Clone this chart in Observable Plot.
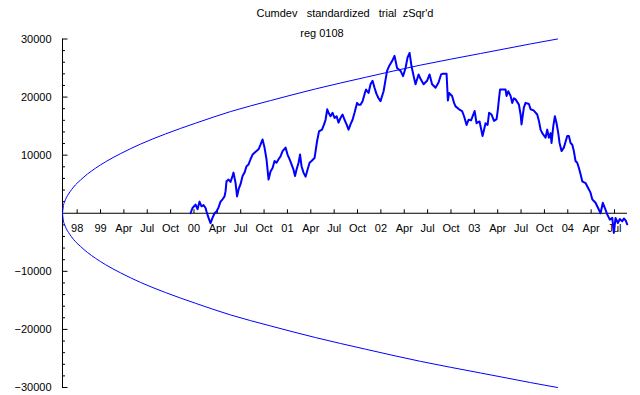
<!DOCTYPE html>
<html><head><meta charset="utf-8">
<script src="https://cdn.jsdelivr.net/npm/d3@7"></script>
<script src="https://cdn.jsdelivr.net/npm/@observablehq/plot@0.6"></script>
<style>body{margin:0;background:#fff} svg text{white-space:pre}</style>
</head><body><div id="chart"></div>
<script>
const title = "Cumdev   standardized   trial  zSqr'd";
const subtitle = "reg 0108";

// x axis: quarter ticks (decimal years) and their labels
const tickYears = [1998.75,1999,1999.25,1999.5,1999.75,2000,2000.25,2000.5,2000.75,2001,2001.25,2001.5,2001.75,2002,2002.25,2002.5,2002.75,2003,2003.25,2003.5,2003.75,2004,2004.25,2004.5];
const tickLabels = ["98","99","Apr","Jul","Oct","00","Apr","Jul","Oct","01","Apr","Jul","Oct","02","Apr","Jul","Oct","03","Apr","Jul","Oct","04","Apr","Jul"];
const xDomain = [1998.593, 2004.639];

// y axis
const yMajor = [-30000,-20000,-10000,10000,20000,30000];
const yMinor = [-28000,-26000,-24000,-22000,-18000,-16000,-14000,-12000,-8000,-6000,-4000,-2000,2000,4000,6000,8000,12000,14000,16000,18000,22000,24000,26000,28000];

// envelope (upper branch, lower is its mirror)
const envYears = [1998.593,1998.603,1998.614,1998.635,1998.657,1998.689,1998.732,1998.785,1998.860,1998.946,1999.053,1999.213,1999.427,1999.695,2000.016,2000.390,2000.819,2001.300,2001.835,2002.424,2003.066,2003.601,2003.890];
const envValues = [0,1350,1900,2700,3300,4050,4900,5700,6750,7750,8850,10250,11900,13650,15500,17500,19400,21400,23400,25500,27500,29150,30000];

// cumulative deviation
const walkYears = [1999.963,1999.984,2000.017,2000.038,2000.059,2000.081,2000.102,2000.124,2000.134,2000.156,2000.177,2000.198,2000.220,2000.241,2000.263,2000.284,2000.306,2000.327,2000.338,2000.348,2000.370,2000.391,2000.412,2000.423,2000.445,2000.461,2000.477,2000.498,2000.520,2000.541,2000.562,2000.584,2000.605,2000.627,2000.648,2000.669,2000.691,2000.712,2000.734,2000.755,2000.776,2000.798,2000.819,2000.841,2000.862,2000.883,2000.905,2000.926,2000.948,2000.980,2001.001,2001.023,2001.044,2001.065,2001.081,2001.097,2001.119,2001.135,2001.151,2001.172,2001.194,2001.215,2001.237,2001.258,2001.290,2001.317,2001.338,2001.370,2001.392,2001.408,2001.426,2001.440,2001.461,2001.483,2001.504,2001.526,2001.547,2001.568,2001.590,2001.611,2001.633,2001.654,2001.675,2001.697,2001.718,2001.745,2001.761,2001.782,2001.804,2001.825,2001.841,2001.868,2001.889,2001.911,2001.932,2001.954,2001.975,2001.996,2002.029,2002.066,2002.087,2002.120,2002.146,2002.173,2002.211,2002.237,2002.264,2002.285,2002.307,2002.328,2002.355,2002.371,2002.403,2002.425,2002.457,2002.494,2002.521,2002.548,2002.585,2002.617,2002.644,2002.660,2002.703,2002.717,2002.730,2002.762,2002.783,2002.799,2002.837,2002.869,2002.890,2002.917,2002.938,2002.965,2003.003,2003.024,2003.056,2003.088,2003.120,2003.142,2003.158,2003.184,2003.211,2003.238,2003.252,2003.263,2003.275,2003.302,2003.334,2003.345,2003.363,2003.388,2003.406,2003.423,2003.441,2003.477,2003.495,2003.505,2003.530,2003.548,2003.584,2003.602,2003.634,2003.673,2003.691,2003.709,2003.727,2003.762,2003.780,2003.798,2003.816,2003.826,2003.845,2003.862,2003.880,2003.898,2003.912,2003.933,2003.958,2003.994,2004.012,2004.030,2004.048,2004.065,2004.083,2004.101,2004.119,2004.137,2004.155,2004.190,2004.226,2004.244,2004.262,2004.297,2004.333,2004.351,2004.375,2004.397,2004.422,2004.450,2004.476,2004.493,2004.511,2004.536,2004.557,2004.583,2004.600,2004.618,2004.636];
const walkValues = [0,900,1500,700,2000,1200,1400,900,300,-800,-1700,-800,0,300,1000,2000,2400,2900,3800,5500,5800,5400,6400,7000,5200,2900,4100,5000,6400,7000,8100,8400,9300,10100,10400,10700,11000,11800,12700,11300,9300,5800,7200,7800,9000,8700,9300,9800,10700,11300,10100,9300,8400,7500,6400,7500,8700,10100,8100,7000,6300,7500,8700,9000,9500,12400,14100,14400,15300,16100,17900,17300,16700,17300,16400,16700,15600,16400,17000,16100,15300,14400,15300,16100,17300,19000,18700,18700,19300,20500,21300,20700,22200,22800,21600,20500,19800,19300,21000,24500,25300,26200,27100,25000,24500,23600,25000,26800,27600,25300,23300,22200,23900,23100,22200,22800,23900,22200,21600,22500,23900,24000,24000,19400,20700,20200,19000,18400,17900,17600,16700,15200,16100,16000,17600,15500,15800,13300,15500,15200,17300,17000,15900,16200,17900,19600,21300,21300,21300,20200,21000,20200,19000,19800,19600,18700,17000,15300,18200,19000,18800,17900,17700,17000,15900,14400,13800,13000,14400,13000,13800,12100,15000,16700,15500,13800,12100,10700,11300,13300,13300,12100,11800,10700,9000,8700,7800,6700,5500,5200,4100,3500,2400,1800,600,0,1800,900,-200,-1100,-800,-3400,-800,-1700,-1000,-1400,-900,-1200,-1900];

const env = envYears.map((t, i) => ({t, v: envValues[i]}));
const walk = walkYears.map((t, i) => ({t, v: walkValues[i]}));

const tickUp = {draw(ctx) { ctx.moveTo(0, 0); ctx.lineTo(0, -4); }};
const tickMajor = {draw(ctx) { ctx.moveTo(0, 0); ctx.lineTo(5, 0); }};
const tickMinor = {draw(ctx) { ctx.moveTo(0, 0); ctx.lineTo(2.5, 0); }};
const fmt = d => d < 0 ? "\u2212" + (-d) : String(d);

const chart = Plot.plot({
  width: 640,
  height: 395,
  marginLeft: 62,
  marginRight: 13,
  marginTop: 38.5,
  marginBottom: 8,
  style: {fontFamily: "'Liberation Sans', Arial, sans-serif", fontSize: "11px", background: "#fff", color: "black"},
  x: {domain: xDomain, axis: null},
  y: {domain: [-30000, 30000], axis: null},
  marks: [
    Plot.frame({anchor: "left", stroke: "black"}),
    Plot.ruleY([0], {stroke: "black"}),
    Plot.axisY(yMajor, {tickSize: 0, tickPadding: 11, tickFormat: fmt, fontSize: 11, label: null}),
    Plot.dot(yMajor, {x: xDomain[0], y: d => d, symbol: tickMajor, stroke: "black", fill: "none", strokeWidth: 1}),
    Plot.dot(yMinor, {x: xDomain[0], y: d => d, symbol: tickMinor, stroke: "black", fill: "none", strokeWidth: 1}),
    Plot.dot(tickYears, {x: d => d, y: 0, symbol: tickUp, stroke: "black", fill: "none", strokeWidth: 1}),
    Plot.text(tickYears, {x: d => d, y: 0, text: (d, i) => tickLabels[i], dy: 15, fontSize: 11}),
    Plot.text([title], {frameAnchor: "top", dy: -30, fontSize: 11}),
    Plot.text([subtitle], {frameAnchor: "top", dy: -10, dx: -23, fontSize: 11}),
    Plot.line(env, {x: "t", y: "v", stroke: "#0000ff", strokeWidth: 1, curve: "monotone-x"}),
    Plot.line(env, {x: "t", y: d => -d.v, stroke: "#0000ff", strokeWidth: 1, curve: "monotone-x"}),
    Plot.line(walk, {x: "t", y: "v", stroke: "#0000ff", strokeWidth: 2})
  ]
});
document.getElementById("chart").appendChild(chart);
</script>
</body></html>
